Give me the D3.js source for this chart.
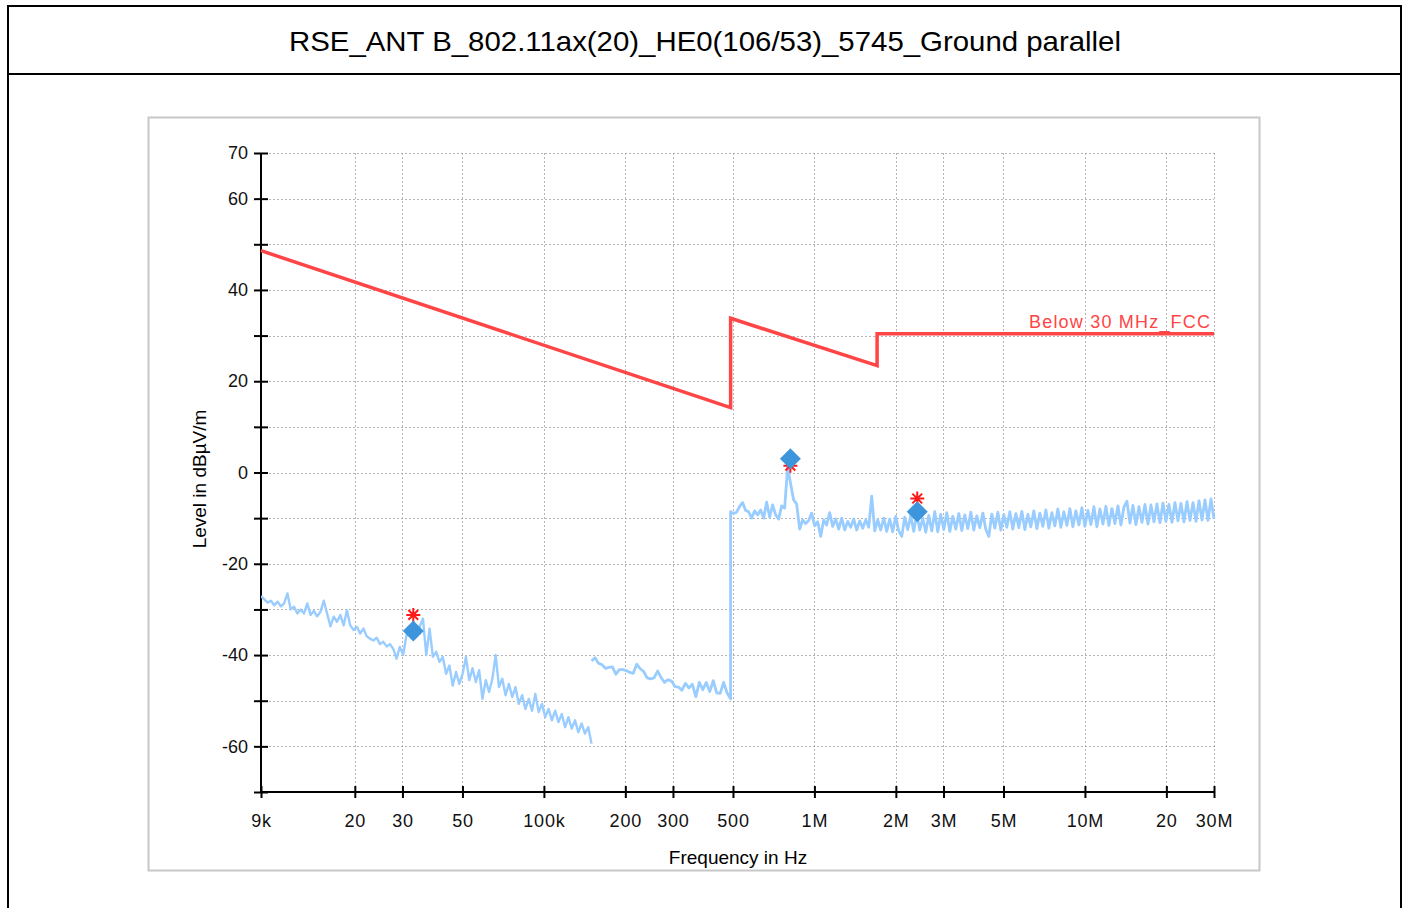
<!DOCTYPE html>
<html>
<head>
<meta charset="utf-8">
<script src="https://cdn.jsdelivr.net/npm/d3@7"></script>
<style>
  html, body { margin: 0; padding: 0; background: #fff; }
  svg { display: block; font-family: "Liberation Sans", Arial, sans-serif; }
</style>
</head>
<body>
<svg id="chart" width="1407" height="908"></svg>
<script>
// ---------------- DATA ----------------
const chartTitle = "RSE_ANT B_802.11ax(20)_HE0(106/53)_5745_Ground parallel";
const xAxisTitle = "Frequency in Hz";
const yAxisTitle = "Level in dBµV/m";
const limitName = "Below 30 MHz_FCC";

const xTickValues = [9e3, 2e4, 3e4, 5e4, 1e5, 2e5, 3e5, 5e5, 1e6, 2e6, 3e6, 5e6, 1e7, 2e7, 3e7];
const xTickLabels = ["9k", "20", "30", "50", "100k", "200", "300", "500", "1M", "2M", "3M", "5M", "10M", "20", "30M"];
const yTickValues = [-70, -60, -50, -40, -30, -20, -10, 0, 10, 20, 30, 40, 50, 60, 70];
const yLabelled = [70, 60, 40, 20, 0, -20, -40, -60];

// FCC limit line: [frequency Hz, level dBµV/m]
const limitFreq  = [9e3, 4.9e5, 4.9e5, 1.705e6, 1.705e6, 3e7];
const limitLevel = [48.6, 14.2, 33.8, 23.4, 30.4, 30.4];

// Measured trace, three sweeps (start Hz, stop Hz, levels dBµV/m on log-spaced sweep points)
const sweep1Range = [9e3, 1.5e5];
const sweep1 = [
  -27.1,-27.8,-28.5,-28.1,-29.1,-28.3,-29.3,-28.7,-26.5,-30.0,
  -29.4,-30.9,-30.0,-30.9,-28.7,-31.2,-30.3,-31.5,-30.5,-28.1,
  -30.9,-33.7,-31.6,-32.7,-31.2,-33.5,-30.2,-33.5,-34.5,-33.8,
  -35.3,-34.2,-35.9,-36.4,-36.8,-36.2,-37.6,-37.1,-38.1,-37.6,
  -38.6,-40.8,-38.2,-40.0,-35.7,-35.3,-35.9,-34.5,-33.8,-32.0,
  -40.0,-34.2,-40.4,-39.3,-41.5,-40.4,-44.1,-42.3,-46.7,-43.7,
  -46.3,-44.1,-40.4,-45.5,-42.9,-45.9,-43.3,-49.6,-45.5,-48.1,
  -45.2,-40.0,-47.0,-45.2,-48.8,-46.3,-49.2,-47.0,-50.7,-48.8,
  -51.8,-49.6,-52.2,-48.5,-52.5,-50.7,-53.6,-51.8,-54.3,-52.2,
  -54.7,-52.9,-55.8,-53.6,-56.1,-54.3,-56.9,-55.0,-57.2,-55.8,
  -59.4
];
const sweep2Range = [1.5e5, 4.9e5];
const sweep2 = [
  -41.3,-40.6,-41.8,-42.1,-42.9,-42.7,-42.6,-44.2,-43.2,-43.2,
  -43.4,-43.8,-44.0,-42.0,-43.0,-43.6,-45.0,-45.2,-45.0,-43.5,
  -44.9,-46.0,-45.4,-45.7,-46.9,-47.0,-47.7,-46.2,-47.2,-46.4,
  -49.1,-46.0,-47.6,-46.0,-48.0,-45.6,-48.3,-48.4,-46.0,-48.3,
  -49.6
];
const sweep3Range = [4.9e5, 3e7];
const sweep3 = [
  -8.6,-9.0,-8.7,-7.4,-6.6,-8.3,-8.6,-10.0,-8.4,-9.3,
  -8.2,-10.0,-6.5,-9.8,-7.1,-9.3,-10.2,-7.3,-7.8,1.2,
  -2.5,-6.0,-6.9,-12.4,-10.4,-11.2,-10.5,-8.9,-11.7,-10.8,
  -14.0,-10.4,-11.5,-8.8,-11.8,-10.2,-12.4,-10.0,-12.6,-10.7,
  -12.0,-10.2,-12.6,-10.6,-12.2,-10.4,-12.0,-5.2,-12.8,-10.4,
  -12.6,-10.0,-12.9,-10.2,-13.0,-9.6,-12.8,-14.0,-9.8,-12.5,
  -9.4,-12.9,-9.0,-12.6,-10.0,-13.1,-9.4,-12.8,-8.6,-13.0,
  -9.2,-12.5,-8.8,-12.9,-9.6,-12.4,-9.0,-12.7,-9.3,-12.3,
  -8.7,-12.6,-9.5,-12.1,-8.9,-12.5,-14.0,-9.1,-12.2,-8.7,
  -12.6,-9.3,-12.0,-8.6,-12.4,-9.0,-12.1,-8.5,-12.5,-9.2,
  -11.9,-8.4,-12.3,-8.9,-11.8,-8.2,-12.2,-8.8,-11.7,-8.0,
  -12.0,-8.6,-11.6,-7.9,-11.9,-8.4,-11.5,-7.7,-11.8,-8.3,
  -11.4,-7.5,-11.9,-8.0,-11.3,-7.4,-11.6,-7.9,-11.2,-7.3,
  -11.5,-7.6,-6.3,-11.1,-7.2,-11.4,-7.5,-10.9,-7.0,-11.3,
  -7.1,-10.8,-6.9,-11.0,-6.7,-10.7,-7.0,-10.9,-6.6,-10.6,
  -6.8,-10.8,-6.4,-10.5,-6.6,-10.7,-6.2,-10.4,-6.0,-10.5,
  -5.8,-10.2
];

// Final measurement markers (diamond) and peak markers (asterisk)
const markerFreq  = [32.9e3, 8.15e5, 2.40e6];
const finalLevel  = [-34.7, 3.0, -8.6];
const peakLevel   = [-31.2, 1.5, -5.7];

// ---------------- LAYOUT ----------------
const svg = d3.select("#chart");
const plot = { left: 261, right: 1214, top: 153, bottom: 792 };

const x = d3.scaleLog().domain([9e3, 3e7]).range([plot.left, plot.right]);
const y = d3.scaleLinear().domain([-70, 70]).range([plot.bottom, plot.top]);

// Outer frame
svg.append("line").attr("x1", 8).attr("x2", 1401).attr("y1", 6).attr("y2", 6)
  .attr("stroke", "#000").attr("stroke-width", 2);
svg.append("line").attr("x1", 8).attr("x2", 1401).attr("y1", 74).attr("y2", 74)
  .attr("stroke", "#000").attr("stroke-width", 2);
svg.append("line").attr("x1", 8).attr("x2", 8).attr("y1", 5).attr("y2", 908)
  .attr("stroke", "#000").attr("stroke-width", 2);
svg.append("line").attr("x1", 1401).attr("x2", 1401).attr("y1", 5).attr("y2", 908)
  .attr("stroke", "#000").attr("stroke-width", 2);

svg.append("text").attr("x", 705).attr("y", 51)
  .attr("text-anchor", "middle").attr("font-size", 28).attr("fill", "#000")
  .attr("textLength", 832).attr("lengthAdjust", "spacingAndGlyphs")
  .text(chartTitle);

// Chart panel border
svg.append("rect").attr("x", 148.5).attr("y", 117.5).attr("width", 1111).attr("height", 753)
  .attr("fill", "#fff").attr("stroke", "#c8c8c8").attr("stroke-width", 2);

// Grid
const grid = svg.append("g");
grid.selectAll("line.h").data(yTickValues.filter(v => v > -70)).enter().append("line")
  .attr("x1", plot.left).attr("x2", plot.right)
  .attr("y1", d => Math.round(y(d)) + 0.5).attr("y2", d => Math.round(y(d)) + 0.5)
  .attr("stroke", "#b4b4b4").attr("stroke-width", 1).attr("stroke-dasharray", "2,2");
grid.selectAll("line.v").data(xTickValues.slice(1)).enter().append("line")
  .attr("x1", d => Math.round(x(d)) + 0.5).attr("x2", d => Math.round(x(d)) + 0.5)
  .attr("y1", plot.top).attr("y2", plot.bottom)
  .attr("stroke", "#b4b4b4").attr("stroke-width", 1).attr("stroke-dasharray", "2,2");

// Axes
const yAxis = svg.append("g").attr("transform", `translate(${plot.left},0)`)
  .call(d3.axisLeft(y).tickValues(yTickValues)
    .tickFormat(d => yLabelled.includes(d) ? String(d) : "").tickSize(6).tickPadding(6));
yAxis.select(".domain").remove();
yAxis.selectAll(".tick line").attr("x1", -7).attr("x2", 7).attr("stroke", "#000").attr("stroke-width", 2);
yAxis.selectAll(".tick text").attr("x", -13).attr("font-size", 18).attr("fill", "#111")
  .attr("font-family", "'Liberation Sans', Arial, sans-serif");
svg.append("line").attr("x1", plot.left).attr("x2", plot.left).attr("y1", plot.top).attr("y2", plot.bottom)
  .attr("stroke", "#000").attr("stroke-width", 2);

const xAxis = svg.append("g").attr("transform", `translate(0,${plot.bottom})`)
  .call(d3.axisBottom(x).tickValues(xTickValues)
    .tickFormat((d, i) => xTickLabels[i]).tickSize(6).tickPadding(6));
xAxis.select(".domain").remove();
xAxis.selectAll(".tick line").attr("y1", -6).attr("y2", 6).attr("stroke", "#000").attr("stroke-width", 2);
xAxis.selectAll(".tick text").attr("y", 22).attr("font-size", 18).attr("fill", "#111")
  .attr("letter-spacing", 0.8)
  .attr("font-family", "'Liberation Sans', Arial, sans-serif");
svg.append("line").attr("x1", plot.left).attr("x2", plot.right).attr("y1", plot.bottom).attr("y2", plot.bottom)
  .attr("stroke", "#000").attr("stroke-width", 2);

// Axis titles
svg.append("text").attr("x", 738).attr("y", 864).attr("text-anchor", "middle")
  .attr("font-size", 19).attr("fill", "#000").text(xAxisTitle);
svg.append("text").attr("transform", "translate(206,479) rotate(-90)").attr("text-anchor", "middle")
  .attr("font-size", 19).attr("fill", "#000").text(yAxisTitle);

// Trace
function sweepPoints(range, levels) {
  const n = levels.length;
  const l0 = Math.log10(range[0]), l1 = Math.log10(range[1]);
  return levels.map((v, i) => [Math.pow(10, l0 + (l1 - l0) * i / (n - 1)), v]);
}
const line = d3.line().x(d => x(d[0])).y(d => y(d[1]));
const traceA = sweepPoints(sweep1Range, sweep1);
const traceB = sweepPoints(sweep2Range, sweep2).concat(sweepPoints(sweep3Range, sweep3));
const clip = svg.append("clipPath").attr("id", "clip").append("rect")
  .attr("x", plot.left).attr("y", plot.top - 2).attr("width", plot.right - plot.left + 2).attr("height", plot.bottom - plot.top + 2);
const traces = svg.append("g").attr("clip-path", "url(#clip)");
[[traceA, 2.4], [traceB, 2.8]].forEach(([t, w]) => {
  traces.append("path").datum(t).attr("d", line)
    .attr("fill", "none").attr("stroke", "#99ccff").attr("stroke-width", w)
    .attr("stroke-linejoin", "round");
});

// Limit line
const limitData = limitFreq.map((f, i) => [f, limitLevel[i]]);
svg.append("path").datum(limitData).attr("d", line)
  .attr("fill", "none").attr("stroke", "#ff4545").attr("stroke-width", 3.5);
svg.append("text").attr("x", 1210).attr("y", 328).attr("text-anchor", "end")
  .attr("font-size", 18).attr("fill", "#ff4545")
  .attr("textLength", 181).attr("lengthAdjust", "spacing")
  .text(limitName);

// Peak asterisks
const star = svg.append("g");
markerFreq.forEach((f, i) => {
  const cx = x(f), cy = y(peakLevel[i]), r = 7;
  const p = d3.path();
  p.moveTo(cx - r, cy); p.lineTo(cx + r, cy);
  p.moveTo(cx, cy - r); p.lineTo(cx, cy + r);
  p.moveTo(cx - r * 0.7, cy - r * 0.7); p.lineTo(cx + r * 0.7, cy + r * 0.7);
  p.moveTo(cx - r * 0.7, cy + r * 0.7); p.lineTo(cx + r * 0.7, cy - r * 0.7);
  star.append("path").attr("d", p.toString()).attr("stroke", "#ff1a1a").attr("stroke-width", 2).attr("fill", "none");
});

// Final diamonds
svg.append("g").selectAll("path").data(markerFreq).enter().append("path")
  .attr("transform", (d, i) => `translate(${x(d)},${y(finalLevel[i])})`)
  .attr("d", "M0,-10.5L10.5,0L0,10.5L-10.5,0Z")
  .attr("fill", "#3d96dc");
</script>
</body>
</html>
